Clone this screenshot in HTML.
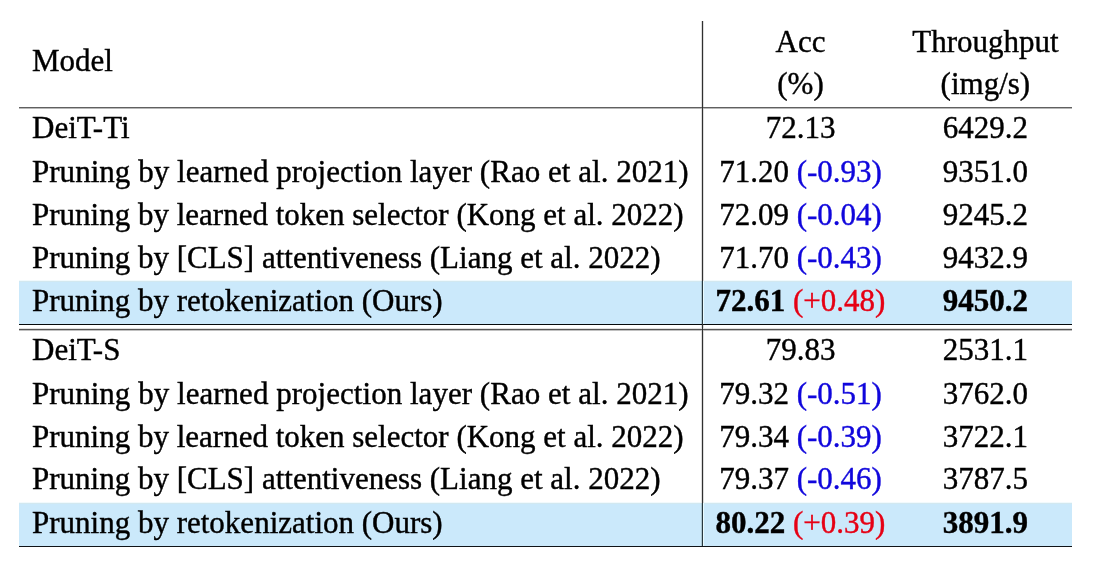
<!DOCTYPE html>
<html><head><meta charset="utf-8"><style>
html,body{margin:0;padding:0;background:#fff;width:1096px;height:576px;overflow:hidden}
svg{display:block;will-change:transform}
text{font-family:"Liberation Serif",serif;font-size:31px;fill:#000;stroke:#000;stroke-width:0.4px}
</style></head><body>
<svg width="1096" height="576" viewBox="0 0 1096 576">
<rect x="19" y="281" width="1053" height="43" fill="#cbe9fb"/>
<rect x="19" y="503" width="1053" height="43" fill="#cbe9fb"/>
<rect x="19" y="280" width="1053" height="1" fill="#f1fafd"/>
<rect x="19" y="281" width="1053" height="1" fill="#d2e8f0"/>
<rect x="19" y="502" width="1053" height="1" fill="#f1fafd"/>
<rect x="19" y="503" width="1053" height="1" fill="#d2e8f0"/>
<rect x="701" y="21" width="1" height="525" fill="#dcdcdc"/>
<rect x="703" y="21" width="1" height="525" fill="#dcdcdc"/>
<rect x="701" y="281" width="1" height="43" fill="#a8c4d0"/>
<rect x="703" y="281" width="1" height="43" fill="#e8fbff"/>
<rect x="701" y="503" width="1" height="43" fill="#a8c4d0"/>
<rect x="703" y="503" width="1" height="43" fill="#e8fbff"/>
<rect x="19" y="107" width="1053" height="1" fill="#606060"/>
<rect x="19" y="108" width="1053" height="1" fill="#b8b8b8"/>
<rect x="19" y="324" width="1053" height="1" fill="#050a0c"/>
<rect x="19" y="328" width="1053" height="1" fill="#e0e0e0"/>
<rect x="19" y="329" width="1053" height="1" fill="#555555"/>
<rect x="19" y="330" width="1053" height="1" fill="#c0c0c0"/>
<rect x="19" y="546" width="1053" height="1" fill="#101418"/>
<rect x="702" y="21" width="1" height="525" fill="#303030"/>
<rect x="702" y="281" width="1" height="43" fill="#28383f"/>
<rect x="702" y="503" width="1" height="43" fill="#28383f"/>
<text x="32" y="71">Model</text>
<text x="800.5" y="52" text-anchor="middle">Acc</text>
<text x="800.5" y="94" text-anchor="middle">(%)</text>
<text x="985.4" y="51.5" text-anchor="middle">Throughput</text>
<text x="985.4" y="94" text-anchor="middle">(img/s)</text>
<text x="32" y="138.1">DeiT-Ti</text>
<text x="800.5" y="138.1" text-anchor="middle" xml:space="preserve"><tspan>72.13</tspan></text>
<text x="985.4" y="138.1" text-anchor="middle"><tspan>6429.2</tspan></text>
<text x="32" y="181.9" letter-spacing="0.03">Pruning by learned projection layer (Rao et al. 2021)</text>
<text x="800.5" y="181.9" text-anchor="middle" xml:space="preserve"><tspan>71.20 </tspan><tspan fill="#1006dc" stroke="#1006dc">(-0.93)</tspan></text>
<text x="985.4" y="181.9" text-anchor="middle"><tspan>9351.0</tspan></text>
<text x="32" y="224.7">Pruning by learned token selector (Kong et al. 2022)</text>
<text x="800.5" y="224.7" text-anchor="middle" xml:space="preserve"><tspan>72.09 </tspan><tspan fill="#1006dc" stroke="#1006dc">(-0.04)</tspan></text>
<text x="985.4" y="224.7" text-anchor="middle"><tspan>9245.2</tspan></text>
<text x="32" y="267.5">Pruning by [CLS] attentiveness (Liang et al. 2022)</text>
<text x="800.5" y="267.5" text-anchor="middle" xml:space="preserve"><tspan>71.70 </tspan><tspan fill="#1006dc" stroke="#1006dc">(-0.43)</tspan></text>
<text x="985.4" y="267.5" text-anchor="middle"><tspan>9432.9</tspan></text>
<text x="32" y="311.25">Pruning by retokenization (Ours)</text>
<text x="800.5" y="311.25" text-anchor="middle" xml:space="preserve"><tspan font-weight="bold">72.61</tspan><tspan fill="#e60014" stroke="#e60014"> (+0.48)</tspan></text>
<text x="985.4" y="311.25" text-anchor="middle"><tspan font-weight="bold">9450.2</tspan></text>
<text x="32" y="359.6">DeiT-S</text>
<text x="800.5" y="359.6" text-anchor="middle" xml:space="preserve"><tspan>79.83</tspan></text>
<text x="985.4" y="359.6" text-anchor="middle"><tspan>2531.1</tspan></text>
<text x="32" y="403.6" letter-spacing="0.03">Pruning by learned projection layer (Rao et al. 2021)</text>
<text x="800.5" y="403.6" text-anchor="middle" xml:space="preserve"><tspan>79.32 </tspan><tspan fill="#1006dc" stroke="#1006dc">(-0.51)</tspan></text>
<text x="985.4" y="403.6" text-anchor="middle"><tspan>3762.0</tspan></text>
<text x="32" y="446.7">Pruning by learned token selector (Kong et al. 2022)</text>
<text x="800.5" y="446.7" text-anchor="middle" xml:space="preserve"><tspan>79.34 </tspan><tspan fill="#1006dc" stroke="#1006dc">(-0.39)</tspan></text>
<text x="985.4" y="446.7" text-anchor="middle"><tspan>3722.1</tspan></text>
<text x="32" y="489.4">Pruning by [CLS] attentiveness (Liang et al. 2022)</text>
<text x="800.5" y="489.4" text-anchor="middle" xml:space="preserve"><tspan>79.37 </tspan><tspan fill="#1006dc" stroke="#1006dc">(-0.46)</tspan></text>
<text x="985.4" y="489.4" text-anchor="middle"><tspan>3787.5</tspan></text>
<text x="32" y="533.1">Pruning by retokenization (Ours)</text>
<text x="800.5" y="533.1" text-anchor="middle" xml:space="preserve"><tspan font-weight="bold">80.22</tspan><tspan fill="#e60014" stroke="#e60014"> (+0.39)</tspan></text>
<text x="985.4" y="533.1" text-anchor="middle"><tspan font-weight="bold">3891.9</tspan></text>
</svg>
</body></html>
